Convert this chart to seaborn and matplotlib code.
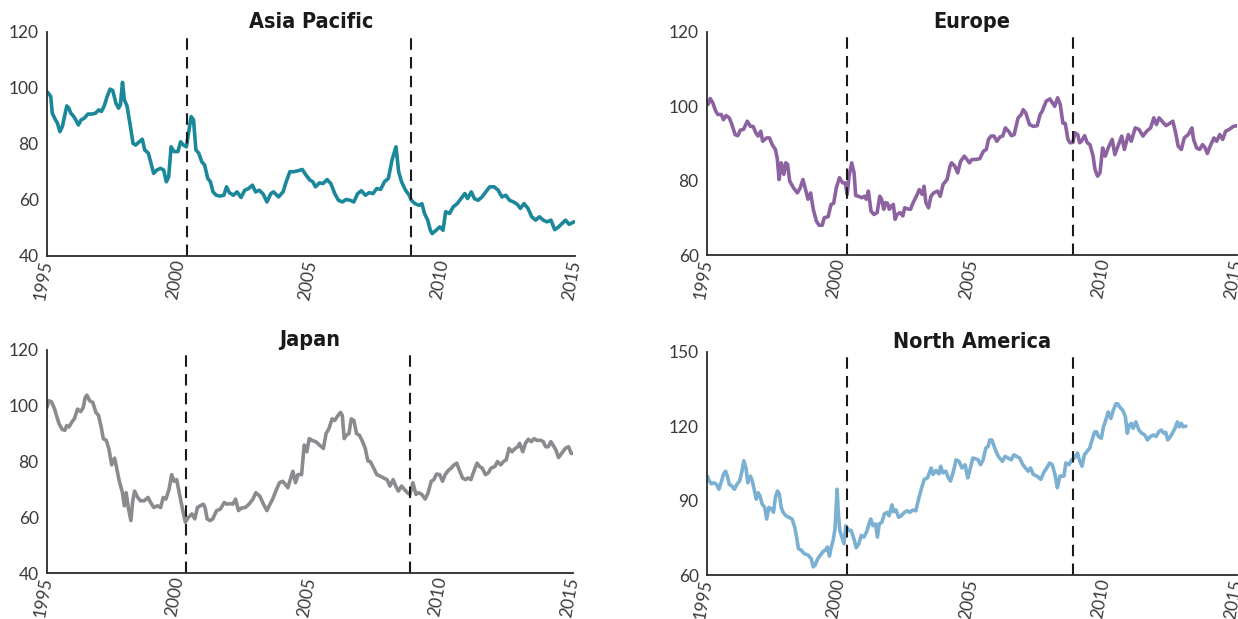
import matplotlib
matplotlib.use("Agg")
import matplotlib.pyplot as plt
import seaborn as sns
import pandas as pd

# ---------------- data ----------------
ap_year = [1995.03,1995.14,1995.20,1995.32,1995.39,1995.49,1995.58,1995.65,1995.75,1995.83,1995.90,1996.00,1996.09,1996.19,1996.29,1996.41,1996.55,1996.70,1996.84,1996.96,1997.06,1997.16,1997.28,1997.39,1997.49,1997.61,1997.71,1997.78,1997.86,1997.93,1998.03,1998.14,1998.26,1998.36,1998.46,1998.61,1998.70,1998.84,1998.94,1999.04,1999.16,1999.30,1999.42,1999.52,1999.61,1999.70,1999.81,1999.96,2000.06,2000.17,2000.28,2000.36,2000.46,2000.55,2000.64,2000.75,2000.86,2000.97,2001.09,2001.19,2001.29,2001.41,2001.55,2001.70,2001.80,2001.91,2002.06,2002.20,2002.35,2002.49,2002.64,2002.78,2002.90,2003.04,2003.19,2003.33,2003.48,2003.58,2003.77,2003.94,2004.06,2004.20,2004.35,2004.49,2004.67,2004.81,2004.96,2005.07,2005.17,2005.32,2005.46,2005.61,2005.75,2005.90,2006.04,2006.19,2006.33,2006.48,2006.62,2006.77,2006.91,2007.06,2007.20,2007.35,2007.49,2007.64,2007.78,2007.93,2008.07,2008.22,2008.32,2008.43,2008.58,2008.72,2008.80,2008.94,2009.09,2009.20,2009.30,2009.42,2009.52,2009.59,2009.74,2009.88,2010.00,2010.10,2010.25,2010.39,2010.54,2010.68,2010.83,2010.93,2011.07,2011.19,2011.33,2011.48,2011.62,2011.77,2011.94,2012.09,2012.23,2012.38,2012.52,2012.67,2012.81,2012.93,2013.07,2013.22,2013.36,2013.51,2013.65,2013.80,2013.94,2014.09,2014.23,2014.38,2014.52,2014.64,2014.78,2014.96]
ap_val = [98.4,97.0,91.0,88.6,87.6,84.4,86.2,89.2,93.6,92.8,91.0,90.0,88.6,86.8,88.6,89.2,90.7,90.7,91.0,92.2,91.6,93.4,97.0,99.6,99.1,94.6,92.8,94.0,102.0,95.8,93.6,87.4,80.2,79.6,80.5,81.7,77.9,76.7,73.1,69.5,70.7,71.3,70.7,66.5,68.3,79.0,77.3,77.3,80.8,79.6,79.0,83.8,89.8,88.6,77.9,76.7,73.7,72.5,67.7,66.5,62.9,61.7,61.4,61.7,64.7,62.6,61.7,62.9,60.9,63.5,64.1,65.3,62.9,63.5,62.1,59.3,62.3,62.9,61.1,62.9,66.5,70.1,70.1,70.4,70.9,68.9,67.1,66.5,64.7,66.1,65.9,67.3,65.9,62.3,59.9,59.3,60.2,59.9,59.3,62.3,63.3,61.7,62.6,62.3,64.1,63.8,66.5,67.7,74.3,79.0,70.1,66.5,63.5,61.7,59.9,58.7,58.1,58.7,55.2,52.8,49.2,48.0,49.2,50.4,49.2,55.8,55.2,57.6,58.7,60.5,62.3,60.5,62.9,60.5,59.9,61.1,62.9,64.7,64.7,63.5,61.1,61.7,59.9,59.3,58.5,57.0,58.7,57.0,54.0,52.8,54.0,52.8,52.2,52.8,49.4,50.4,51.7,52.8,51.3,52.2]

eu_year = [1995.04,1995.12,1995.22,1995.33,1995.41,1995.54,1995.62,1995.72,1995.84,1995.94,1996.06,1996.16,1996.26,1996.38,1996.52,1996.64,1996.74,1996.84,1996.93,1997.03,1997.10,1997.25,1997.36,1997.46,1997.58,1997.65,1997.72,1997.80,1997.90,1997.97,1998.04,1998.12,1998.26,1998.41,1998.52,1998.62,1998.72,1998.81,1998.91,1999.01,1999.13,1999.23,1999.35,1999.42,1999.57,1999.68,1999.78,1999.88,2000.00,2000.12,2000.22,2000.29,2000.36,2000.46,2000.55,2000.61,2000.72,2000.84,2000.94,2001.01,2001.09,2001.19,2001.30,2001.42,2001.52,2001.59,2001.67,2001.74,2001.81,2001.88,2001.96,2002.03,2002.10,2002.17,2002.29,2002.39,2002.46,2002.58,2002.68,2002.78,2002.90,2003.01,2003.12,2003.19,2003.26,2003.36,2003.45,2003.55,2003.70,2003.80,2003.91,2004.06,2004.17,2004.23,2004.35,2004.46,2004.57,2004.71,2004.81,2004.90,2005.00,2005.14,2005.29,2005.43,2005.54,2005.62,2005.72,2005.83,2005.94,2006.06,2006.16,2006.26,2006.38,2006.49,2006.59,2006.74,2006.86,2006.93,2007.03,2007.17,2007.32,2007.46,2007.57,2007.65,2007.80,2007.94,2008.04,2008.12,2008.23,2008.33,2008.43,2008.52,2008.62,2008.70,2008.81,2008.88,2008.99,2009.06,2009.13,2009.25,2009.35,2009.45,2009.57,2009.64,2009.74,2009.83,2009.93,2010.03,2010.14,2010.29,2010.39,2010.51,2010.65,2010.75,2010.90,2011.01,2011.16,2011.30,2011.45,2011.59,2011.74,2011.86,2011.96,2012.06,2012.17,2012.32,2012.46,2012.58,2012.68,2012.78,2012.90,2013.01,2013.16,2013.30,2013.36,2013.48,2013.59,2013.70,2013.80,2013.88,2013.99,2014.13,2014.23,2014.35,2014.46,2014.57,2014.71,2014.86,2015.00]
eu_val = [100.5,102.1,100.9,98.7,97.8,97.8,96.4,97.5,96.9,95.1,92.4,92.1,93.6,93.8,96.0,94.6,94.6,92.9,92.0,93.3,90.6,91.5,91.5,89.7,88.4,86.1,80.3,84.8,81.7,84.8,84.4,79.9,78.1,76.7,78.1,80.3,77.6,75.0,76.7,72.3,69.1,68.0,68.0,70.0,70.3,73.6,73.9,78.1,80.8,79.4,79.4,76.3,81.2,84.8,82.1,76.0,75.8,75.4,75.8,75.0,77.2,71.8,70.9,71.4,75.8,75.0,72.3,74.1,73.9,72.3,73.2,73.6,69.6,70.9,71.4,70.5,72.7,72.4,72.3,74.1,75.8,77.6,76.3,78.5,74.1,72.7,75.8,76.7,77.2,75.8,79.0,80.3,83.9,84.8,83.9,82.1,85.2,86.6,85.7,84.8,85.7,85.7,85.9,87.9,88.4,91.1,92.0,92.0,90.6,91.8,92.0,94.2,93.3,92.1,92.4,96.9,97.8,99.1,98.2,95.1,94.6,94.8,97.8,98.7,101.4,102.0,100.9,100.0,102.3,100.5,95.5,95.4,91.1,90.2,90.3,92.9,92.4,90.2,90.6,92.1,90.2,89.7,86.6,83.0,81.2,82.1,88.8,86.6,88.8,91.1,87.0,89.3,92.0,88.4,92.4,90.6,94.2,93.8,92.0,93.3,94.2,96.9,95.1,96.9,96.0,94.8,95.4,96.0,93.0,89.3,88.4,91.5,92.4,94.2,91.1,88.8,88.4,89.7,88.8,87.3,89.3,91.5,90.6,92.4,91.1,93.3,93.8,94.6,94.8]

jp_year = [1995.00,1995.07,1995.17,1995.29,1995.36,1995.46,1995.58,1995.68,1995.75,1995.84,1995.94,1996.04,1996.16,1996.28,1996.38,1996.45,1996.52,1996.62,1996.74,1996.86,1996.96,1997.06,1997.14,1997.25,1997.35,1997.46,1997.57,1997.65,1997.75,1997.87,1997.94,1998.01,1998.09,1998.19,1998.26,1998.33,1998.45,1998.55,1998.70,1998.84,1998.94,1999.06,1999.20,1999.32,1999.42,1999.52,1999.64,1999.74,1999.83,1999.93,2000.03,2000.14,2000.26,2000.36,2000.51,2000.62,2000.72,2000.83,2000.94,2001.01,2001.09,2001.20,2001.30,2001.45,2001.59,2001.74,2001.84,2001.96,2002.07,2002.17,2002.28,2002.39,2002.54,2002.68,2002.83,2002.94,2003.09,2003.23,2003.36,2003.48,2003.58,2003.70,2003.84,2003.96,2004.06,2004.16,2004.25,2004.35,2004.45,2004.54,2004.68,2004.78,2004.88,2004.97,2005.07,2005.22,2005.36,2005.51,2005.61,2005.72,2005.84,2005.94,2006.04,2006.16,2006.23,2006.30,2006.38,2006.48,2006.57,2006.67,2006.77,2006.88,2007.00,2007.10,2007.20,2007.29,2007.39,2007.54,2007.68,2007.80,2007.93,2008.04,2008.16,2008.26,2008.36,2008.48,2008.59,2008.70,2008.80,2008.91,2009.03,2009.13,2009.25,2009.38,2009.49,2009.61,2009.71,2009.81,2009.93,2010.04,2010.14,2010.25,2010.36,2010.48,2010.58,2010.65,2010.80,2010.91,2011.01,2011.12,2011.23,2011.35,2011.45,2011.55,2011.67,2011.78,2011.88,2012.03,2012.13,2012.25,2012.36,2012.46,2012.57,2012.68,2012.80,2012.90,2012.97,2013.09,2013.19,2013.30,2013.41,2013.52,2013.62,2013.77,2013.87,2013.96,2014.06,2014.16,2014.28,2014.35,2014.45,2014.57,2014.71,2014.83,2014.93,2015.00]
jp_val = [99.4,101.8,101.4,98.8,96.5,93.5,91.5,91.2,92.9,92.4,94.1,95.3,98.8,97.9,99.4,102.9,103.8,101.8,101.2,97.6,96.5,92.4,88.2,87.6,84.7,78.8,81.2,77.6,72.9,68.8,64.1,68.8,63.5,58.8,65.9,69.4,67.1,65.9,65.9,67.1,65.3,63.5,64.1,63.5,67.1,66.5,70.0,75.3,72.9,73.5,68.8,63.5,58.2,59.8,61.2,59.4,63.5,64.1,64.7,63.5,59.4,58.8,59.4,62.4,62.9,65.3,64.7,64.9,64.7,66.5,62.4,63.3,63.5,64.7,66.5,68.8,67.6,64.7,62.4,64.7,66.5,69.4,72.4,72.9,71.8,70.6,73.5,76.5,72.4,75.3,75.3,85.9,83.5,88.2,87.6,87.1,85.9,84.7,90.0,91.8,95.3,94.7,96.2,97.6,96.5,88.2,89.4,90.0,95.3,94.7,90.0,89.4,87.1,84.7,80.2,80.0,78.2,75.3,74.7,74.1,73.5,71.2,73.5,71.2,69.4,71.2,70.0,68.8,68.2,72.4,68.2,68.8,68.2,66.5,68.8,72.9,73.5,75.5,75.3,72.9,75.3,76.7,77.6,78.8,79.4,77.6,74.1,73.5,74.1,73.5,76.5,79.4,78.2,77.6,75.3,75.9,77.6,78.2,80.0,78.8,80.0,80.6,84.7,83.5,84.7,85.3,86.5,83.5,86.5,88.0,87.1,88.2,87.6,87.6,87.1,85.3,85.3,87.1,85.3,84.1,81.4,82.9,84.7,85.3,82.9,82.9]

na_year = [1995.01,1995.09,1995.16,1995.26,1995.36,1995.45,1995.55,1995.62,1995.70,1995.77,1995.84,1995.94,1996.03,1996.13,1996.23,1996.32,1996.39,1996.47,1996.54,1996.64,1996.71,1996.79,1996.86,1996.93,1997.00,1997.08,1997.18,1997.25,1997.34,1997.44,1997.51,1997.58,1997.66,1997.73,1997.80,1997.87,1997.98,1998.09,1998.21,1998.31,1998.38,1998.45,1998.56,1998.67,1998.82,1998.93,1999.01,1999.08,1999.18,1999.28,1999.40,1999.47,1999.54,1999.62,1999.69,1999.76,1999.83,1999.91,1999.95,2000.01,2000.09,2000.17,2000.24,2000.34,2000.44,2000.56,2000.63,2000.73,2000.82,2000.92,2001.02,2001.11,2001.18,2001.26,2001.36,2001.43,2001.50,2001.60,2001.69,2001.79,2001.87,2001.98,2002.04,2002.13,2002.23,2002.33,2002.45,2002.56,2002.66,2002.76,2002.88,2003.00,2003.10,2003.20,2003.32,2003.39,2003.46,2003.53,2003.64,2003.75,2003.82,2003.90,2004.01,2004.11,2004.19,2004.30,2004.40,2004.51,2004.62,2004.74,2004.84,2004.91,2005.03,2005.13,2005.23,2005.32,2005.42,2005.52,2005.61,2005.67,2005.75,2005.86,2005.96,2006.04,2006.15,2006.25,2006.36,2006.48,2006.58,2006.68,2006.80,2006.92,2007.02,2007.12,2007.21,2007.31,2007.45,2007.60,2007.70,2007.82,2007.93,2008.03,2008.13,2008.22,2008.32,2008.47,2008.54,2008.66,2008.76,2008.86,2008.98,2009.05,2009.15,2009.24,2009.34,2009.44,2009.53,2009.63,2009.70,2009.77,2009.88,2009.96,2010.07,2010.14,2010.24,2010.33,2010.43,2010.50,2010.57,2010.69,2010.79,2010.86,2010.94,2011.01,2011.08,2011.18,2011.30,2011.41,2011.52,2011.62,2011.73,2011.85,2011.95,2012.05,2012.14,2012.24,2012.31,2012.39,2012.49,2012.59,2012.66,2012.75,2012.82,2012.90,2012.97,2013.07]
na_val = [99.9,97.9,96.8,97.2,96.6,94.6,97.9,100.6,101.9,99.9,96.6,95.9,94.6,96.6,97.9,101.9,106.1,103.2,97.2,99.9,97.9,93.9,90.6,93.2,91.9,88.6,87.3,82.6,87.3,86.6,85.3,91.3,93.9,92.6,87.3,85.3,83.9,83.3,82.6,79.3,75.3,70.6,70.0,68.6,68.0,66.6,63.3,64.0,66.6,68.0,69.7,70.0,71.3,67.6,71.3,74.0,78.6,94.6,85.9,78.0,75.3,72.6,79.9,78.0,78.0,74.0,71.0,72.6,76.0,75.3,77.3,80.6,82.6,79.9,80.6,75.3,80.6,81.3,84.6,85.3,83.9,88.3,85.6,86.3,83.3,83.9,85.3,85.9,85.3,86.2,85.9,91.3,95.2,98.6,99.2,101.2,103.2,100.6,102.2,100.8,103.9,101.2,101.9,99.2,97.9,101.9,106.5,105.9,103.2,104.5,99.2,101.9,107.2,106.9,106.5,104.5,106.5,111.2,111.9,114.5,114.5,111.2,108.5,107.2,105.9,107.9,107.2,106.5,108.5,107.9,107.2,104.5,103.2,101.9,103.2,100.6,99.9,98.6,101.2,103.2,105.2,104.5,100.6,95.2,99.9,99.9,105.2,104.5,106.5,107.2,109.2,106.5,103.9,108.5,109.9,111.2,114.5,117.8,117.8,115.9,115.2,119.8,123.2,125.8,123.2,126.5,129.1,129.1,127.8,126.5,123.8,117.2,120.5,121.2,119.2,121.8,118.5,117.2,116.5,114.5,115.9,116.5,115.9,117.8,118.5,117.2,117.6,114.5,115.9,117.8,119.2,121.8,119.8,121.2,119.8,120.1]

titles = ["Asia Pacific", "Europe", "Japan", "North America"]
colors = ["#1B879B", "#8C62A1", "#8B8B8F", "#7BB0D3"]
ylims = [(40, 120), (60, 120), (40, 120), (60, 150)]
yticks = [[40, 60, 80, 100, 120], [60, 80, 100, 120], [40, 60, 80, 100, 120], [60, 90, 120, 150]]
xticks = [1995, 2000, 2005, 2010, 2015]
event_years = [2000.3, 2008.8]

series = [(ap_year, ap_val), (eu_year, eu_val), (jp_year, jp_val), (na_year, na_val)]

# ---------------- plot ----------------
sns.set_style("white")
plt.rcParams["font.family"] = ["Lato", "DejaVu Sans"]

fig = plt.figure(figsize=(12.38, 6.19), dpi=100)
W, H = 1238.0, 619.0
boxes = [  # left, top, right, bottom in pixels
    (47, 32, 575, 256),
    (707, 32, 1237, 255),
    (47, 350, 573, 573),
    (707, 352, 1237, 575),
]

text_color = "#3a3a3a"
for i, (box, (xs, ys)) in enumerate(zip(boxes, series)):
    l, t, r, b = box
    ax = fig.add_axes([l / W, 1 - b / H, (r - l) / W, (b - t) / H])
    df = pd.DataFrame({"year": xs, "value": ys})
    sns.lineplot(data=df, x="year", y="value", ax=ax, color=colors[i],
                 linewidth=2.6, estimator=None, sort=False)
    for ev in event_years:
        ax.axvline(ev, ymin=0, ymax=0.985, color="#1a1a1a", linewidth=1.5,
                   linestyle=(0, (5.5, 3.5)))
    ax.set_xlim(1995, 2015)
    ax.set_ylim(*ylims[i])
    ax.set_xticks(xticks)
    ax.set_yticks(yticks[i])
    ax.set_xlabel("")
    ax.set_ylabel("")
    for s in ["top", "right"]:
        ax.spines[s].set_visible(False)
    for s in ["left", "bottom"]:
        ax.spines[s].set_color("#2b2b2b")
        ax.spines[s].set_linewidth(1.3)
    ax.tick_params(axis="x", direction="in", length=9, width=1.3, color="#2b2b2b",
                   pad=3, labelsize=12.5, labelcolor=text_color)
    ax.tick_params(axis="y", length=0, pad=6, labelsize=12.5, labelcolor=text_color)
    for lab in ax.get_xticklabels():
        lab.set_rotation(80)
        lab.set_ha("right")
        lab.set_va("center")
        lab.set_rotation_mode("anchor")
    ax.set_title(titles[i], fontsize=15.5, fontweight="bold", color="#1a1a1a",
                 family="DejaVu Sans", fontstretch="condensed", pad=3)

fig.savefig("out.png", dpi=100)
